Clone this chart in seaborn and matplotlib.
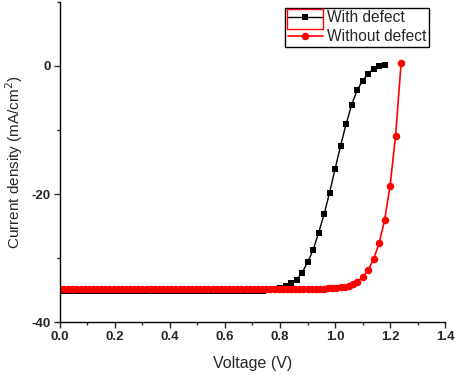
import matplotlib
matplotlib.use('Agg')
import matplotlib.pyplot as plt
import matplotlib.patches as patches
from matplotlib.ticker import MultipleLocator
import seaborn as sns

# J-V data
v_defect = [0.00, 0.02, 0.04, 0.06, 0.08, 0.10, 0.12, 0.14, 0.16, 0.18,
            0.20, 0.22, 0.24, 0.26, 0.28, 0.30, 0.32, 0.34, 0.36, 0.38,
            0.40, 0.42, 0.44, 0.46, 0.48, 0.50, 0.52, 0.54, 0.56, 0.58,
            0.60, 0.62, 0.64, 0.66, 0.68, 0.70, 0.72, 0.74, 0.76, 0.78,
            0.80, 0.82, 0.84, 0.86, 0.88, 0.90, 0.92, 0.94, 0.96, 0.98,
            1.00, 1.02, 1.04, 1.06, 1.08, 1.10, 1.12, 1.14, 1.16, 1.18]
j_defect = [-35.2, -35.2, -35.2, -35.2, -35.2, -35.2, -35.2, -35.2, -35.2, -35.2,
            -35.2, -35.2, -35.2, -35.2, -35.2, -35.2, -35.2, -35.2, -35.2, -35.2,
            -35.2, -35.2, -35.2, -35.2, -35.2, -35.2, -35.2, -35.2, -35.2, -35.2,
            -35.2, -35.2, -35.2, -35.2, -35.2, -35.2, -35.15, -35.1, -35.05, -34.9,
            -34.7, -34.3, -33.9, -33.4, -32.3, -30.7, -28.8, -26.1, -23.2, -19.8,
            -16.1, -12.5, -9.1, -6.1, -3.8, -2.3, -1.2, -0.4, -0.05, 0.1]

v_clean = [0.000, 0.015, 0.030, 0.045, 0.060, 0.075, 0.090, 0.105, 0.120, 0.135,
           0.150, 0.165, 0.180, 0.195, 0.210, 0.225, 0.240, 0.255, 0.270, 0.285,
           0.300, 0.315, 0.330, 0.345, 0.360, 0.375, 0.390, 0.405, 0.420, 0.435,
           0.450, 0.465, 0.480, 0.495, 0.510, 0.525, 0.540, 0.555, 0.570, 0.585,
           0.600, 0.615, 0.630, 0.645, 0.660, 0.675, 0.690, 0.705, 0.720, 0.735,
           0.750, 0.765, 0.780, 0.795, 0.810, 0.825, 0.840, 0.855, 0.870, 0.885,
           0.900, 0.915, 0.930, 0.945, 0.960, 0.975, 0.990, 1.005, 1.020, 1.035,
           1.050, 1.065, 1.080, 1.100, 1.120, 1.140, 1.160, 1.180, 1.200, 1.220,
           1.240]
j_clean = [-34.9, -34.9, -34.9, -34.9, -34.9, -34.9, -34.9, -34.9, -34.9, -34.9,
           -34.9, -34.9, -34.9, -34.9, -34.9, -34.9, -34.9, -34.9, -34.9, -34.9,
           -34.9, -34.9, -34.9, -34.9, -34.9, -34.9, -34.9, -34.9, -34.9, -34.9,
           -34.9, -34.9, -34.9, -34.9, -34.9, -34.9, -34.9, -34.9, -34.9, -34.9,
           -34.9, -34.9, -34.9, -34.9, -34.9, -34.9, -34.9, -34.9, -34.9, -34.9,
           -34.9, -34.9, -34.9, -34.9, -34.9, -34.9, -34.9, -34.9, -34.9, -34.9,
           -34.88, -34.86, -34.84, -34.82, -34.78, -34.74, -34.7, -34.65, -34.6, -34.5,
           -34.35, -34.1, -33.7, -33.0, -31.9, -30.2, -27.7, -24.1, -18.7, -10.9,
           0.4]

sns.set_style('ticks')
plt.rcParams['font.family'] = ['Liberation Sans', 'DejaVu Sans']
plt.rcParams['axes.unicode_minus'] = False

fig = plt.figure(figsize=(4.57, 3.75), dpi=100)
ax = fig.add_axes([0.131, 0.1413, 0.843, 0.8534])

sns.lineplot(x=v_defect, y=j_defect, ax=ax, color='black', marker='s',
             markersize=5, markeredgewidth=0, linewidth=1, sort=False,
             estimator=None, label='With defect')
sns.lineplot(x=v_clean, y=j_clean, ax=ax, color='red', marker='o',
             markersize=5.4, markeredgewidth=0, linewidth=1.2, sort=False,
             estimator=None, label='Without defect')

ax.set_xlim(0, 1.4)
ax.set_ylim(-40, 10)
ax.set_xticks([0, 0.2, 0.4, 0.6, 0.8, 1.0, 1.2, 1.4])
ax.set_xticklabels(['0.0', '0.2', '0.4', '0.6', '0.8', '1.0', '1.2', '1.4'])
ax.set_yticks([0, -20, -40])
ax.set_yticklabels(['0', '-20', '-40'])
ax.xaxis.set_minor_locator(MultipleLocator(0.1))
ax.yaxis.set_minor_locator(MultipleLocator(10))

ax.tick_params(which='major', direction='out', length=4, width=1, labelsize=9.5, pad=2.5)
ax.tick_params(which='minor', direction='out', length=2.5, width=1)
for lab in ax.get_xticklabels() + ax.get_yticklabels():
    lab.set_fontweight('bold')

for side in ['top', 'right']:
    ax.spines[side].set_visible(False)
for side in ['left', 'bottom']:
    ax.spines[side].set_linewidth(1)
    ax.spines[side].set_color('black')

ax.set_xlabel('Voltage (V)', fontsize=11.5, labelpad=9)
ax.set_ylabel('Current density (mA/cm$^2$)', fontsize=11, labelpad=5)

leg = ax.legend(loc='upper right', bbox_to_anchor=(0.958, 0.981), fontsize=11.2,
                frameon=True, fancybox=False, edgecolor='black', framealpha=1,
                borderpad=0.15, labelspacing=0.25, handlelength=2.3,
                handletextpad=0.25, borderaxespad=0)
leg.get_frame().set_linewidth(1)

# red selection box round the first legend handle, as in the reference
fig.canvas.draw()
bb = leg.get_window_extent()
fig.patches.append(patches.Rectangle((bb.x0 + 2, bb.y1 - 21), 36, 20,
                                     transform=None, fill=False,
                                     edgecolor='red', linewidth=1))

fig.savefig('out.png', dpi=100)
